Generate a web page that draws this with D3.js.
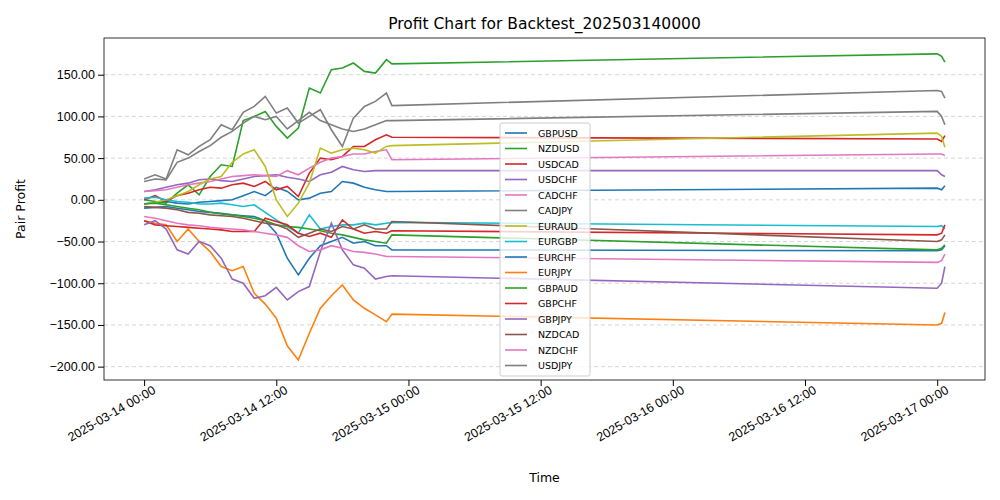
<!DOCTYPE html>
<html><head><meta charset="utf-8">
<script src="https://cdn.jsdelivr.net/npm/d3@7"></script>
<style>body{margin:0;background:#fff;font-family:"DejaVu Sans",sans-serif}</style>
</head><body><svg id="chart"></svg>
<script>
// hours since 2025-03-14 00:00
const denseHours = d3.range(0, 23);
const tailHours = [22.5, 72, 72.4, 72.7];
const names = ["GBPUSD","NZDUSD","USDCAD","USDCHF","CADCHF","CADJPY","EURAUD","EURGBP","EURCHF","EURJPY","GBPAUD","GBPCHF","GBPJPY","NZDCAD","NZDCHF","USDJPY"];
const colors = ["#1f77b4","#2ca02c","#d62728","#9467bd","#e377c2","#7f7f7f","#bcbd22","#17becf","#1f77b4","#ff7f0e","#2ca02c","#d62728","#9467bd","#8c564b","#e377c2","#7f7f7f"];
const dense = [
  [-5,-3,-2,-4,-5,-3,-2,-1,0,5,10,5,15,10,0,2,8,10,22,20,15,12,10],
  [0,-2,-4,8,18,6,28,42,40,95,100,106,88,74,86,134,128,156,158,164,154,152,168],
  [0,5,-2,5,8,12,15,14,18,20,16,22,12,16,4,32,50,48,52,64,64,72,78],
  [10,12,15,18,20,24,25,23,22,25,28,29,30,27,25,22,30,33,40,36,34,35,35],
  [10,11,12,15,18,20,22,25,28,29,30,29,28,35,30,38,45,50,52,55,55,58,60],
  [25,30,25,60,54,64,72,90,84,105,112,124,104,110,92,100,108,84,64,98,112,118,128],
  [-5,-3,0,5,10,18,25,28,45,55,60,40,0,-20,-4,20,62,56,60,62,60,56,64],
  [2,3,0,-2,-3,-5,-5,-4,-6,-8,-6,-15,-24,-32,-40,-18,-35,-32,-30,-30,-28,-30,-28],
  [-10,-9,-8,-10,-12,-14,-15,-16,-18,-19,-20,-25,-40,-70,-90,-70,-55,-50,-45,-52,-50,-55,-55],
  [-25,-28,-30,-50,-35,-50,-62,-80,-85,-80,-112,-125,-142,-175,-192,-160,-130,-115,-102,-120,-130,-138,-146],
  [-5,-4,-6,-8,-10,-12,-15,-17,-18,-20,-22,-25,-30,-32,-33,-35,-37,-40,-42,-45,-48,-50,-52],
  [-25,-30,-31,-32,-33,-34,-35,-36,-38,-38,-38,-22,-26,-30,-40,-44,-40,-45,-24,-35,-40,-38,-40],
  [-30,-25,-35,-60,-65,-50,-55,-70,-95,-100,-118,-115,-105,-120,-110,-104,-62,-28,-60,-78,-82,-95,-92],
  [-8,-9,-10,-12,-15,-16,-18,-19,-20,-22,-25,-28,-30,-35,-45,-40,-35,-38,-32,-35,-30,-35,-35],
  [-20,-22,-25,-28,-30,-31,-33,-34,-35,-36,-38,-40,-42,-45,-55,-62,-60,-55,-58,-62,-63,-65,-68],
  [22,25,24,45,50,58,65,75,82,92,100,96,100,85,95,105,95,90,85,82,85,90,95]
];
const tails = [
  [10,14,12,17],[163,175,172,165],[75,73,70,77],[35,35,30,28],
  [48,55,55,53],[113,131,130,122],[65,80,76,63],[-27,-32,-31,-35],
  [-60,-61,-60,-55],[-137,-150,-148,-135],[-42,-60,-58,-54],[-37,-42,-40,-30],
  [-91,-106,-100,-80],[-26,-50,-48,-42],[-68,-75,-73,-65],[95,106,100,90]
];
const yTicks = [-200,-150,-100,-50,0,50,100,150];

const W = 1000, H = 500, m = {l:104, r:15, t:38, b:120};
const t0 = new Date(2025, 2, 14, 0, 0);
const toDate = h => new Date(t0.getTime() + h * 3600e3);
const svg = d3.select("#chart").attr("width", W).attr("height", H);

const x = d3.scaleTime().domain([toDate(-3.64), toDate(76.34)]).range([m.l, W - m.r]);
const y = d3.scaleLinear().domain([-216, 194]).range([H - m.b, m.t]);

// grid
svg.append("g").selectAll("line").data(yTicks).join("line")
  .attr("x1", m.l).attr("x2", W - m.r).attr("y1", d => y(d)).attr("y2", d => y(d))
  .attr("stroke", "#ccc").attr("stroke-dasharray", "4,3").attr("stroke-width", 0.8);

const line = d3.line().x(d => x(toDate(d[0]))).y(d => y(d[1]));
svg.append("defs").append("clipPath").attr("id", "c").append("rect")
  .attr("x", m.l).attr("y", m.t).attr("width", W - m.l - m.r).attr("height", H - m.t - m.b);
const g = svg.append("g").attr("clip-path", "url(#c)");
names.forEach((n, i) => {
  const pts = denseHours.map((h, j) => [h, dense[i][j]]).concat(tailHours.map((h, j) => [h, tails[i][j]]));
  g.append("path").attr("d", line(pts)).attr("fill", "none").attr("stroke", colors[i]).attr("stroke-width", 1.6);
});

// axes
const xAxis = d3.axisBottom(x).tickValues(d3.range(0, 73, 12).map(toDate))
  .tickFormat(d3.timeFormat("%Y-%m-%d %H:%M")).tickSizeOuter(0);
const gx = svg.append("g").attr("transform", `translate(0,${H - m.b})`).call(xAxis);
gx.selectAll("text").attr("font-size", 12.5).attr("fill", "#000")
  .attr("text-anchor", "end").attr("x", 4).attr("y", 8).attr("dy", "0.7em")
  .attr("transform", "rotate(-30)");
const gy = svg.append("g").attr("transform", `translate(${m.l},0)`)
  .call(d3.axisLeft(y).tickValues(yTicks).tickFormat(d3.format(".2f")).tickSizeOuter(0));
gy.selectAll("text").attr("font-size", 12.5).attr("fill", "#000");
svg.selectAll(".domain").remove();
svg.append("rect").attr("x", m.l).attr("y", m.t).attr("width", W - m.l - m.r).attr("height", H - m.t - m.b)
  .attr("fill", "none").attr("stroke", "#000").attr("stroke-width", 0.8);

svg.append("text").attr("x", (m.l + W - m.r) / 2).attr("y", 29).attr("text-anchor", "middle")
  .attr("font-size", 15.5).text("Profit Chart for Backtest_202503140000");
svg.append("text").attr("x", (m.l + W - m.r) / 2).attr("y", 482).attr("text-anchor", "middle")
  .attr("font-size", 12.5).text("Time");
svg.append("text").attr("transform", `translate(25,${(m.t + H - m.b) / 2}) rotate(-90)`)
  .attr("text-anchor", "middle").attr("font-size", 12.5).text("Pair Profit");

// legend
const lg = svg.append("g").attr("transform", "translate(500,123)");
lg.append("rect").attr("width", 90).attr("height", 253).attr("rx", 2)
  .attr("fill", "#fff").attr("fill-opacity", 0.8).attr("stroke", "#ccc");
names.forEach((n, i) => {
  const yy = 10 + i * 15.5;
  lg.append("line").attr("x1", 5).attr("x2", 27).attr("y1", yy).attr("y2", yy)
    .attr("stroke", colors[i]).attr("stroke-width", 1.6);
  lg.append("text").attr("x", 38).attr("y", yy + 3.5).attr("font-size", 9.5).text(n);
});
</script></body></html>
